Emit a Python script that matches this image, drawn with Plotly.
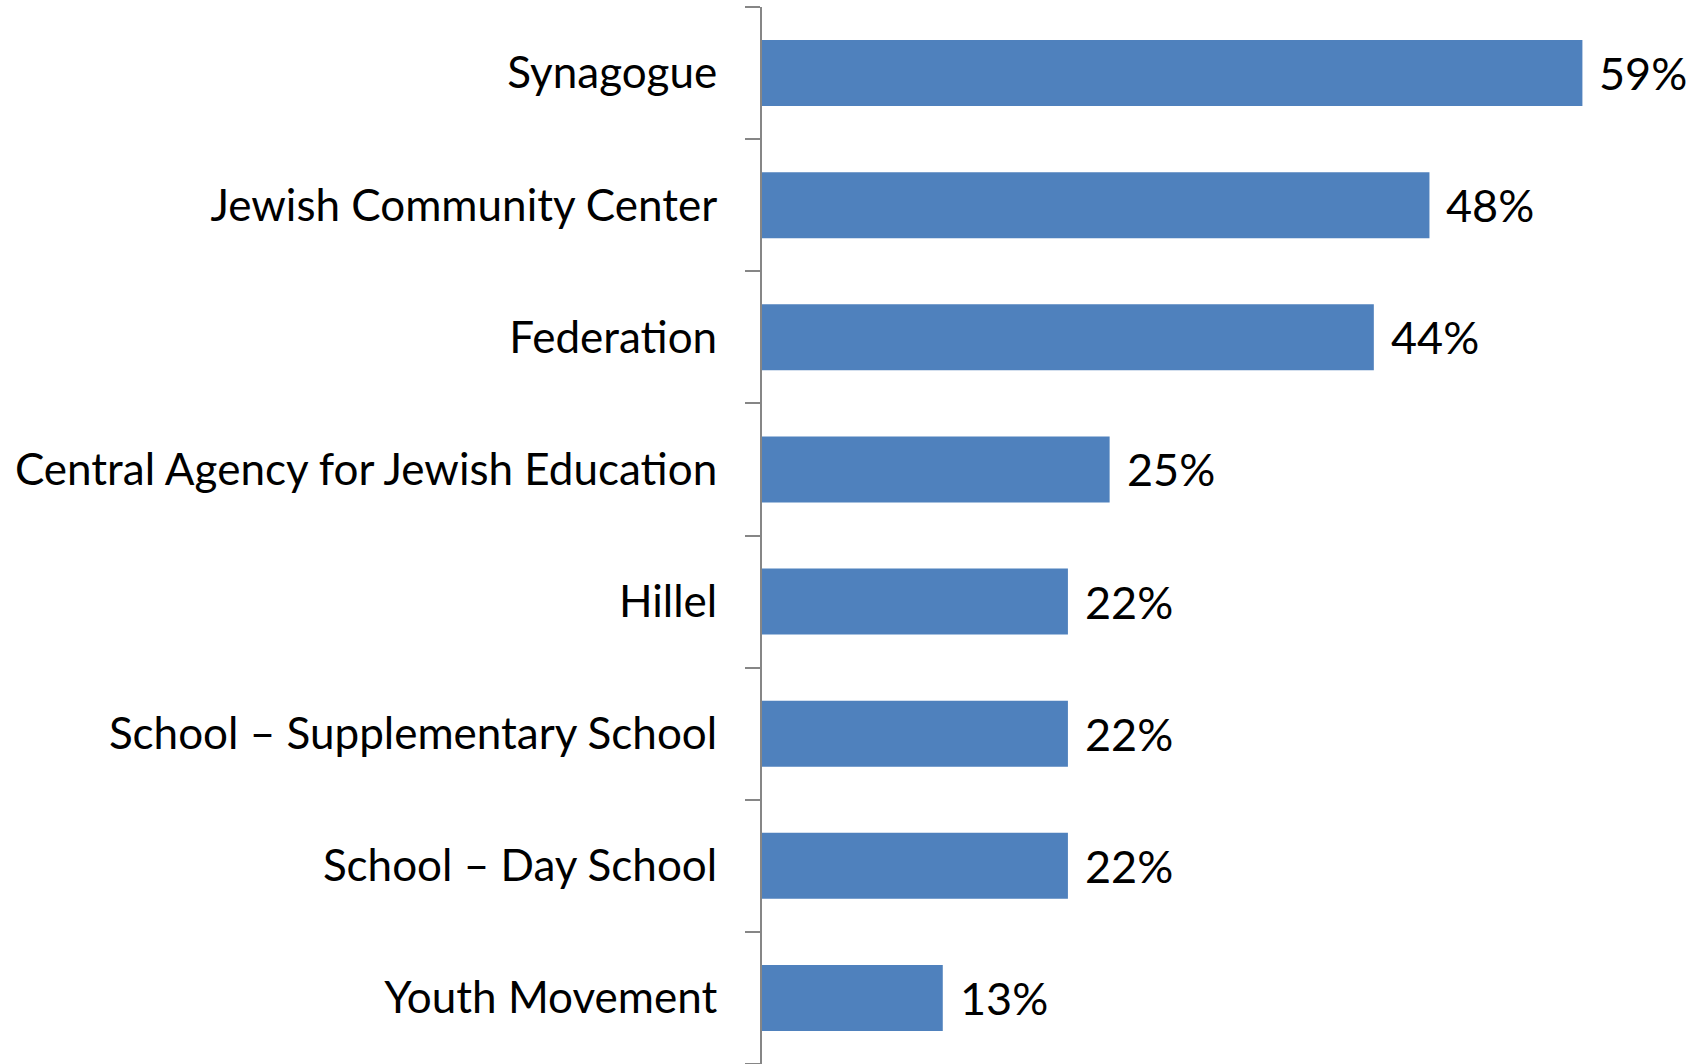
import plotly.graph_objects as go

categories = [
    "Synagogue",
    "Jewish Community Center",
    "Federation",
    "Central Agency for Jewish Education",
    "Hillel",
    "School \u2013 Supplementary School",
    "School \u2013 Day School",
    "Youth Movement",
]
values = [59, 48, 44, 25, 22, 22, 22, 13]

BAR_COLOR = "#4F81BD"
AXIS_COLOR = "#868686"
FONT = "Lato"
FONT_SIZE = 44

fig = go.Figure()
fig.add_trace(go.Bar(
    x=values,
    y=categories,
    orientation="h",
    width=0.5,
    marker=dict(color=BAR_COLOR, line=dict(width=0)),
    hoverinfo="skip",
))

# value labels just past the end of each bar
for cat, val in zip(categories, values):
    fig.add_annotation(
        x=val, y=cat, text=f"{val}%",
        xanchor="left", yanchor="middle", xshift=15, showarrow=False,
        font=dict(family=FONT, size=45, color="#000000"),
    )

fig.update_layout(
    width=1702, height=1064,
    margin=dict(l=762, r=0, t=7, b=0),
    paper_bgcolor="white", plot_bgcolor="white",
    showlegend=False,
    font=dict(family=FONT, size=FONT_SIZE, color="#000000"),
    xaxis=dict(range=[0, 67.6], visible=False, showgrid=False, zeroline=False),
    yaxis=dict(
        categoryorder="array", categoryarray=categories[::-1],
        range=[-0.5, 7.5],
        showline=True, linecolor=AXIS_COLOR, linewidth=2,
        ticks="outside", tickson="boundaries", ticklen=15, tickwidth=2,
        tickcolor=AXIS_COLOR, ticklabelstandoff=34,
        showgrid=False, zeroline=False,
        tickfont=dict(family=FONT, size=FONT_SIZE, color="#000000"),
    ),
)

fig.write_html("out.html")
